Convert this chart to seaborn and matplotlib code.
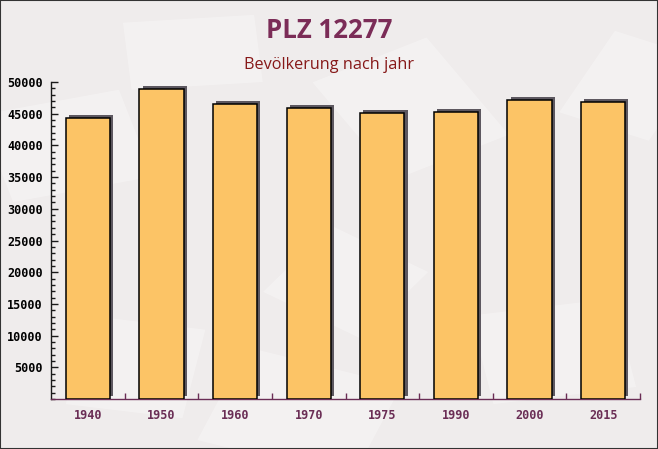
import numpy as np
import pandas as pd
import matplotlib
matplotlib.use("Agg")
import matplotlib.pyplot as plt
import matplotlib.patheffects as pe
from matplotlib.patches import Rectangle
from matplotlib.ticker import MultipleLocator, FixedLocator
import seaborn as sns

years = ["1940", "1950", "1960", "1970", "1975", "1990", "2000", "2015"]
population = [44280, 48850, 46490, 45930, 45070, 45220, 47120, 46800]
y_ticks = [5000, 10000, 15000, 20000, 25000, 30000, 35000, 40000, 45000, 50000]

title = "PLZ 12277"
subtitle = "Bevölkerung nach jahr"

sns.set_theme(style="white")
plt.rcParams["font.family"] = ["DejaVu Sans"]

df = pd.DataFrame({"year": years, "pop": population})

fig = plt.figure(figsize=(6.58, 4.49), dpi=100)
fig.patch.set_facecolor("#efecec")

# background layer with faint decorative envelope shapes
bg = fig.add_axes([0, 0, 1, 1], zorder=-10)
bg.set_xlim(0, 1)
bg.set_ylim(0, 1)
bg.axis("off")
deco = [(0.02, 0.55, 0.22, 0.2, 15), (0.3, 0.02, 0.25, 0.22, -20), (0.6, 0.6, 0.2, 0.25, 30),
        (0.75, 0.1, 0.22, 0.2, 10), (0.4, 0.35, 0.18, 0.18, -35), (0.1, 0.1, 0.18, 0.2, -10),
        (0.85, 0.75, 0.15, 0.2, -25), (0.2, 0.8, 0.2, 0.15, 5)]
for x0, y0, w, h, ang in deco:
    bg.add_patch(Rectangle((x0, y0), w, h, angle=ang, facecolor="white", alpha=0.3,
                           edgecolor="none"))

ax = fig.add_axes([51 / 658, 1 - 399 / 449, (640 - 51) / 658, (399 - 82) / 449], zorder=1)
ax.set_facecolor("none")

sns.barplot(data=df, x="year", y="pop", color="#fcc466", saturation=1, width=0.6,
            edgecolor="black", linewidth=1.1, ax=ax, zorder=3)
for p in ax.patches:
    p.set_path_effects([pe.SimplePatchShadow(offset=(2.3, 2.3), shadow_rgbFace="#5d5860", alpha=1.0),
                        pe.Normal()])

ax.set_xlim(-0.5, len(years) - 0.5)
ax.set_ylim(0, 50000)
ax.set_xlabel("")
ax.set_ylabel("")

for s in ["top", "right"]:
    ax.spines[s].set_visible(False)
ax.spines["left"].set_color("#1a1a1a")
ax.spines["bottom"].set_color("#6a2d55")
ax.spines["left"].set_linewidth(1.0)
ax.spines["bottom"].set_linewidth(1.0)

ax.yaxis.set_major_locator(FixedLocator(y_ticks))
ax.yaxis.set_minor_locator(MultipleLocator(1000))
ax.tick_params(axis="y", which="major", direction="in", length=5, width=1, color="#1a1a1a",
               labelsize=8.5, labelcolor="black", pad=6, left=True)
ax.tick_params(axis="y", which="minor", direction="in", length=3, width=1, color="#1a1a1a", left=True)
for lab in ax.get_yticklabels():
    lab.set_family("DejaVu Sans Mono")
    lab.set_weight("bold")

ax.xaxis.set_minor_locator(FixedLocator(np.arange(len(years)) + 0.5))
ax.tick_params(axis="x", which="major", length=0, labelsize=8.5, labelcolor="#6a2d55", pad=7)
ax.tick_params(axis="x", which="minor", direction="in", length=4, width=1, color="#6a2d55", bottom=True)
for lab in ax.get_xticklabels():
    lab.set_family("DejaVu Sans Mono")
    lab.set_weight("bold")

fig.text(0.5, 1 - 31 / 449, title, ha="center", va="center", fontsize=18.5, fontweight="bold",
         color="#7b2c57", family=["Open Sans", "DejaVu Sans"])
fig.text(0.5, 1 - 65 / 449, subtitle, ha="center", va="center", fontsize=11.7, color="#861818",
         family=["Open Sans", "DejaVu Sans"])

border = Rectangle((0, 0), 1, 1, transform=fig.transFigure, fill=False,
                   edgecolor="#333333", linewidth=1.5, zorder=10)
fig.patches.append(border)

fig.savefig("out.png", dpi=100, facecolor=fig.get_facecolor())
